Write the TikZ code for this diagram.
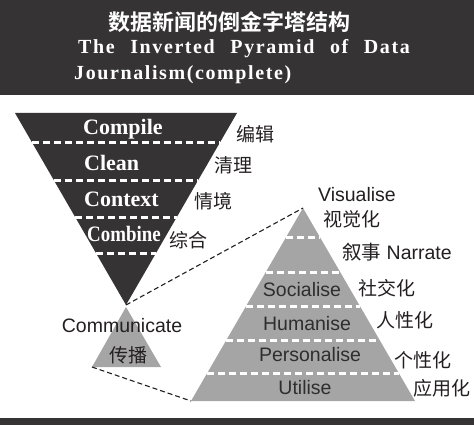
\documentclass[tikz,border=0pt]{standalone}
\usepackage{fontspec}
\setmainfont{Liberation Serif}
\setsansfont{Liberation Sans}
\newfontfamily\cjk{Noto Sans CJK SC}
\newfontfamily\cjkb{Noto Sans CJK SC Bold}
\newfontfamily\hdr[LetterSpace=8]{Liberation Serif Bold}
\usetikzlibrary{calc}
\definecolor{dark}{HTML}{353334}
\definecolor{pgray}{HTML}{A5A5A5}
\definecolor{ink}{HTML}{231F20}
\definecolor{inkg}{HTML}{2E2E2E}
\newcommand\wsp{\ \hspace{9pt}}
\tikzset{
  wdash/.style={draw=white, line width=3pt, dash pattern=on 7pt off 4pt},
  conn/.style={draw=ink, line width=1.1pt, dash pattern=on 5pt off 3pt},
  serlab/.style={text=white, inner sep=0pt, anchor=base west, font=\bfseries\fontsize{22}{22}\selectfont},
  sanlab/.style={text=ink, inner sep=0pt, font=\sffamily\fontsize{19.5}{19.5}\selectfont},
  inlab/.style={text=inkg, inner sep=0pt, font=\sffamily\fontsize{19.5}{19.5}\selectfont},
  cjklab/.style={text=ink, inner sep=0pt, font=\cjk\fontsize{19}{19}\selectfont},
}
\begin{document}
\begin{tikzpicture}[x=1pt,y=-1pt]
\useasboundingbox (0,0) rectangle (474,425);
% header
\fill[dark] (0,0) rectangle (474,95);
\fill[dark] (0,418) rectangle (474,425);
\node[text=white, inner sep=0pt] (cn) at (229,22) {\cjkb\fontsize{22}{22}\selectfont 数据新闻的倒金字塔结构};
\node[text=white, inner sep=0pt, anchor=base west] (en1) at (78,54) {\hdr\fontsize{20}{20}\selectfont The\wsp Inverted\wsp Pyramid\wsp of\wsp Data};
\node[text=white, inner sep=0pt, anchor=base west] (en2) at (74,80) {\hdr\fontsize{20}{20}\selectfont Journalism(complete)};
% inverted pyramid
\coordinate (A) at (15,113);
\coordinate (B) at (237,113);
\coordinate (C) at (126,305);
\fill[dark] (A) -- (B) -- (C) -- cycle;
\foreach \t in {0.156,0.349,0.542,0.734}{
  \draw[wdash] ($(A)!\t!(C)$) -- ($(B)!\t!(C)$);
}
\node[serlab] (compile) at (83,135) {Compile};
\node[serlab] (clean) at (84,171) {Clean};
\node[serlab] (context) at (84,206) {Context};
\node[serlab] (combine) at (87,241) {\scalebox{0.86}[1]{Combine}};
\node[cjklab] (bianji) at (255,134) {编辑};
\node[cjklab] (qingli) at (233,165) {清理};
\node[cjklab] (qingjing) at (213,201) {情境};
\node[cjklab] (zonghe) at (188,240) {综合};
% small triangle
\coordinate (S) at (126,307);
\coordinate (SL) at (92,367);
\coordinate (SR) at (161,367);
\fill[pgray] (S) -- (SL) -- (SR) -- cycle;
\node[sanlab] (comm) at (122,326) {Communicate};
\node[cjklab] (chuanbo) at (128,355) {传播};
% big pyramid
\coordinate (P) at (303,208);
\coordinate (L) at (191,401);
\coordinate (R) at (415,401);
\fill[pgray] (P) -- (L) -- (R) -- cycle;
\foreach \t in {0.155,0.332,0.508,0.684,0.855}{
  \draw[wdash] ($(P)!\t!(L)$) -- ($(P)!\t!(R)$);
}
% connectors
\draw[conn] (C) -- (P);
\draw[conn] (SL) -- (L);
% labels
\node[sanlab] (vis) at (357,195) {Visualise};
\node[cjklab] (shijue) at (352,219) {视觉化};
\node[sanlab] (narr) at (397,252) {{\cjk 叙事} Narrate};
\node[inlab] (soc) at (302,290) {Socialise};
\node[cjklab] (shejiao) at (387,288) {社交化};
\node[inlab] (hum) at (307,324) {Humanise};
\node[cjklab] (renxing) at (405,320) {人性化};
\node[inlab] (pers) at (310,355) {Personalise};
\node[cjklab] (gexing) at (423,360) {个性化};
\node[inlab] (util) at (305,388) {Utilise};
\node[cjklab] (yingyong) at (442,388) {应用化};
\end{tikzpicture}
\end{document}
